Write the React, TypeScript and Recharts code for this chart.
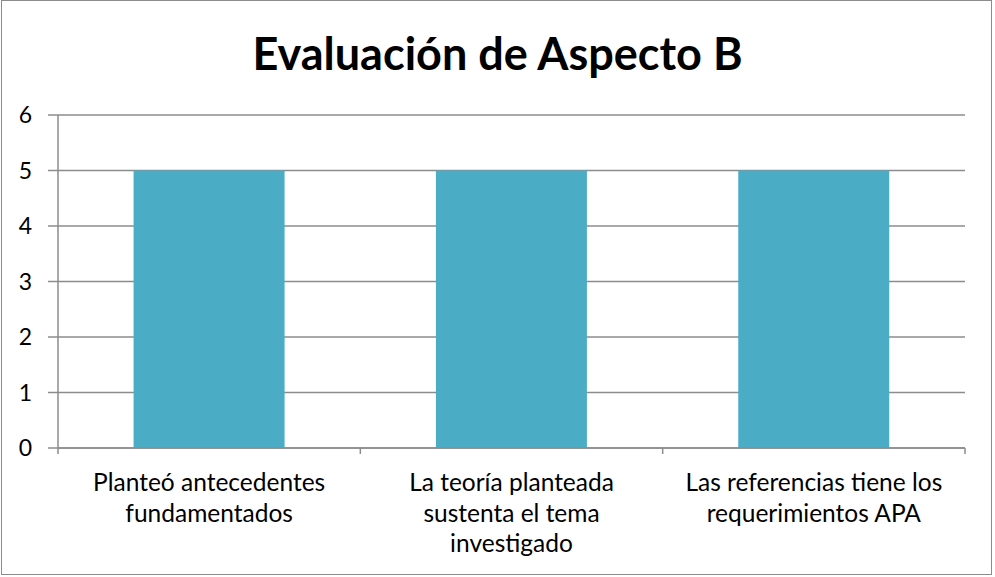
import { BarChart, Bar, XAxis, YAxis, CartesianGrid } from 'recharts';

const categories = [
  'Planteó antecedentes fundamentados',
  'La teoría planteada sustenta el tema investigado',
  'Las referencias tiene los requerimientos APA',
];
const categoryLines = [
  ['Planteó antecedentes', 'fundamentados'],
  ['La teoría planteada', 'sustenta el tema', 'investigado'],
  ['Las referencias tiene los', 'requerimientos APA'],
];
const values = [5, 5, 5];
const yTicks = [0, 1, 2, 3, 4, 5, 6];

const data = categories.map((name, i) => ({ name, value: values[i], lines: categoryLines[i] }));

const W = 995;
const H = 577;
const M = { top: 115, right: 30, left: 0, bottom: 9 };
const Y_W = 58;
const FONT = 'Lato, "Open Sans", sans-serif';
const GRID = '#8c8c8c';

const CategoryTick = (props: any) => {
  const { x, y, index } = props;
  const band = (W - M.right - M.left - Y_W) / categories.length;
  const lines = categoryLines[index] || [];
  return (
    <g>
      <line x1={x - band / 2} x2={x - band / 2} y1={y - 8} y2={y - 2} stroke={GRID} strokeWidth={1.5} />
      {index === categories.length - 1 && (
        <line x1={x + band / 2} x2={x + band / 2} y1={y - 8} y2={y - 2} stroke={GRID} strokeWidth={1.5} />
      )}
      <text textAnchor="middle" fontFamily={FONT} fontSize={24.5} fill="#000">
        {lines.map((l: string, i: number) => (
          <tspan key={i} x={x} y={y + 35 + i * 30.5}>{l}</tspan>
        ))}
      </text>
    </g>
  );
};

export default function App() {
  return (
    <div style={{ position: 'absolute', left: 0, top: 0, width: W, height: H, background: '#fff' }}>
      <div
        style={{
          position: 'absolute', left: 1, top: 0, width: W - 4, height: H - 2,
          border: '1.5px solid #8c8c8c', boxSizing: 'border-box', pointerEvents: 'none',
        }}
      />
      <div
        style={{
          position: 'absolute', left: 0, top: 26, width: W, textAlign: 'center',
          fontFamily: FONT, fontWeight: 700, fontSize: 45, color: '#000',
        }}
      >
        Evaluación de Aspecto B
      </div>
      <BarChart width={W} height={H} data={data} margin={M} barCategoryGap="25%">
        <CartesianGrid vertical={false} stroke={GRID} strokeWidth={1.5} />
        <XAxis
          dataKey="name"
          interval={0}
          height={120}
          axisLine={{ stroke: GRID, strokeWidth: 1.5 }}
          tickLine={false}
          tick={<CategoryTick />}
        />
        <YAxis
          domain={[0, 6]}
          ticks={yTicks}
          width={Y_W}
          tickSize={10}
          tickMargin={16}
          axisLine={{ stroke: GRID, strokeWidth: 1.5 }}
          tickLine={{ stroke: GRID, strokeWidth: 1.5 }}
          tick={{ fill: '#000', fontSize: 23, fontFamily: FONT }}
        />
        <Bar dataKey="value" fill="#4BACC6" isAnimationActive={false} />
      </BarChart>
    </div>
  );
}
